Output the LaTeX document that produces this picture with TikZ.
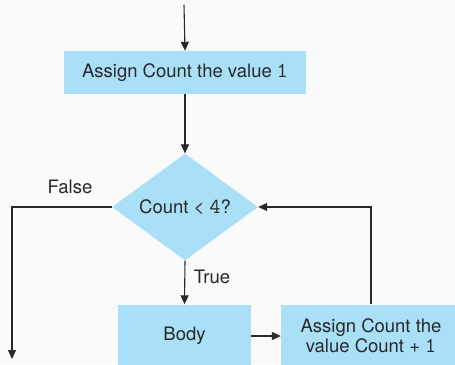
\documentclass[tikz,border=0pt]{standalone}
\usepackage{fontspec}
\setmainfont{TeX Gyre Heros}
\setmonofont[Scale=1.15]{Latin Modern Mono}
\usetikzlibrary{shapes.geometric,arrows.meta}

\definecolor{paper}{RGB}{250,250,250}
\definecolor{boxblue}{RGB}{170,223,248}
\definecolor{ink}{RGB}{40,40,40}

\tikzset{
  procbox/.style={fill=boxblue, inner sep=0pt, align=center, text=ink,
    font=\fontsize{18.5}{20.5}\selectfont},
  testbox/.style={diamond, fill=boxblue, inner sep=0pt, text=ink,
    minimum width=146pt, minimum height=106pt,
    font=\fontsize{18.5}{20.5}\selectfont},
  flow/.style={draw=ink, line width=1.1pt, -{Triangle[length=9pt,width=8pt]}},
  tag/.style={text=ink, font=\fontsize{18.5}{20.5}\selectfont}
}
\newcommand{\digit}[1]{\texttt{#1}}

\begin{document}
\begin{tikzpicture}[x=1pt,y=-1pt]
  \fill[paper] (0,0) rectangle (455,364);
  \clip (0,0) rectangle (455,364);

  % entry and exit points
  \coordinate (entry) at (184,5);
  \coordinate (exit) at (12,359);

  % loop nodes
  \node[procbox, minimum width=242pt, minimum height=43pt] (init) at (185,72.5)
    {Assign Count the value \digit{1}};
  \node[testbox] (test) at (185,207) {Count < \digit{4}?};
  \node[procbox, minimum width=133pt, minimum height=63pt] (body) at (184.5,336) {Body};
  \node[procbox, minimum width=180pt, minimum height=63pt] (incr) at (371,336)
    {Assign Count the\\ value Count + \digit{1}};

  % connectors
  \draw[flow] (entry) -- (init.north);
  \draw[flow] (init.south) -- (test.north);
  \draw[flow] (test.west) -| (exit);
  \draw[flow] (test.south) -- (body.north);
  \draw[flow] (body.east) -- (incr.west);
  \draw[flow] (incr.north) |- (test.east);

  \node[tag] (no) at (70,187) {False};
  \node[tag] (yes) at (212,277) {True};
\end{tikzpicture}
\end{document}
